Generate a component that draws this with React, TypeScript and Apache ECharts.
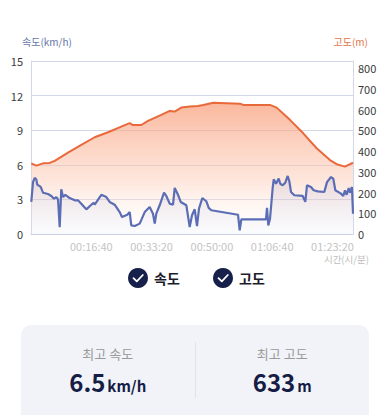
import React, { useEffect, useRef } from "react";
import * as echarts from "echarts";

const FONT = '"Noto Sans CJK KR", "Noto Sans", sans-serif';

// time (seconds) and altitude (m)
const altTimes = [5, 88, 199, 310, 393, 613, 834, 1056, 1277, 1497, 1636, 1691, 1829, 1940, 2160, 2300, 2383, 2492, 2636, 2769, 2857, 3023, 3465, 3520, 3963, 4074, 4294, 4515, 4737, 4958, 5069, 5206, 5340];
const altValues = [341, 330, 341, 343, 353, 393, 430, 467, 491, 518, 535, 526, 526, 546, 575, 594, 591, 610, 615, 618, 623, 633, 629, 623, 623, 610, 551, 486, 414, 357, 337, 325, 344];

// time (seconds) and speed (km/h)
const speedTimes = [5, 33, 61, 88, 104, 161, 199, 282, 337, 381, 420, 448, 476, 502, 531, 569, 642, 725, 779, 834, 917, 1000, 1045, 1056, 1166, 1249, 1305, 1388, 1471, 1509, 1597, 1637, 1663, 1720, 1803, 1886, 1968, 2023, 2052, 2078, 2134, 2206, 2244, 2300, 2355, 2383, 2438, 2483, 2576, 2632, 2670, 2715, 2753, 2786, 2841, 2907, 2947, 2990, 3433, 3461, 3488, 3632, 3897, 3914, 3935, 3964, 4008, 4025, 4063, 4108, 4134, 4174, 4217, 4257, 4284, 4312, 4367, 4506, 4549, 4577, 4643, 4688, 4755, 4864, 4909, 4975, 5013, 5047, 5141, 5179, 5207, 5235, 5269, 5290, 5323, 5340];
const speedValues = [2.78, 4.5, 4.86, 4.74, 4.28, 4.08, 3.58, 3.47, 3.3, 3.06, 3.2, 3.0, 0.6, 3.88, 3.2, 3.4, 3.12, 2.92, 2.92, 2.63, 2.14, 2.54, 2.71, 2.54, 3.4, 3.2, 2.78, 2.54, 1.9, 1.47, 1.67, 1.9, 0.75, 0.69, 0.9, 1.9, 2.34, 1.76, 0.9, 1.76, 2.49, 3.58, 3.3, 2.63, 2.54, 3.99, 3.4, 2.78, 2.49, 0.6, 1.62, 2.14, 0.69, 2.2, 3.12, 2.84, 2.26, 2.06, 1.67, 0.32, 1.27, 1.27, 1.27, 2.26, 0.75, 1.33, 3.99, 4.74, 4.36, 4.8, 4.36, 4.22, 4.45, 5.03, 4.57, 3.64, 3.36, 3.3, 2.78, 4.22, 4.08, 3.79, 3.7, 3.64, 4.5, 4.94, 4.8, 3.79, 3.5, 3.3, 3.79, 3.4, 3.99, 3.58, 4.08, 1.76];

const legendNames = ["속도", "고도"];
const axisNames = ["속도(km/h)", "고도(m)", "시간(시/분)"];
const statLabels = ["최고 속도", "최고 고도"];
const statValues = ["6.5", "633"];
const statUnits = ["km/h", "m"];

const fmtTime = (s: number) => {
  const h = Math.floor(s / 3600);
  const m = Math.floor((s % 3600) / 60);
  const sec = Math.floor(s % 60);
  const p = (n: number) => String(n).padStart(2, "0");
  return `${p(h)}:${p(m)}:${p(sec)}`;
};

function legendItem(cx: number, cy: number, label: string) {
  return [
    { type: "circle", shape: { cx, cy, r: 10 }, style: { fill: "#17204a" } },
    {
      type: "polyline",
      shape: { points: [[cx - 4.5, cy + 0.2], [cx - 1.2, cy + 3.4], [cx + 4.8, cy - 3]] },
      style: { stroke: "#ffffff", lineWidth: 1.8, fill: "none", lineCap: "round", lineJoin: "round" },
    },
    {
      type: "text",
      x: cx + 16,
      y: cy,
      style: { text: label, fill: "#1c1c2a", font: `bold 14px ${FONT}`, textVerticalAlign: "middle", textAlign: "left" },
    },
  ];
}

export default function App() {
  const ref = useRef<HTMLDivElement>(null);
  useEffect(() => {
    if (!ref.current) return;
    const chart = echarts.init(ref.current, null, { renderer: "svg" });
    chart.setOption({
      animation: false,
      textStyle: { fontFamily: FONT },
      grid: { left: 31, right: 33, top: 61, bottom: 76, containLabel: false },
      xAxis: {
        type: "value",
        min: 0,
        max: 5340,
        interval: 1000,
        axisLine: { show: true, lineStyle: { color: "#c9d0e4", width: 1 } },
        axisTick: { show: false },
        splitLine: { show: false },
        axisLabel: {
          color: "#c4c4c4",
          fontSize: 11,
          margin: 6,
          showMinLabel: false,
          showMaxLabel: false,
          formatter: (v: number) => fmtTime(v),
        },
      },
      yAxis: [
        {
          type: "value",
          min: 0,
          max: 15,
          interval: 3,
          axisLine: { show: true, lineStyle: { color: "#d3d8e8" } },
          axisTick: { show: false },
          axisLabel: { color: "#3a3a3a", fontSize: 11, margin: 8 },
          splitLine: { show: true, lineStyle: { color: "#d3d8e8", width: 1 } },
        },
        {
          type: "value",
          min: 0,
          max: 835,
          interval: 100,
          axisLine: { show: true, lineStyle: { color: "#d3d8e8" } },
          axisTick: { show: false },
          axisLabel: { color: "#3a3a3a", fontSize: 11, margin: 5, showMaxLabel: false },
          splitLine: { show: false },
        },
      ],
      series: [
        {
          name: "고도",
          type: "line",
          yAxisIndex: 1,
          symbol: "none",
          data: altTimes.map((t, i) => [t, altValues[i]]),
          lineStyle: { color: "#e8693a", width: 2 },
          areaStyle: {
            color: new echarts.graphic.LinearGradient(0, 0, 0, 1, [
              { offset: 0, color: "rgba(248,148,108,0.95)" },
              { offset: 0.6, color: "rgba(252,205,185,0.7)" },
              { offset: 1, color: "rgba(255,255,255,0.2)" },
            ]),
          },
          z: 2,
        },
        {
          name: "속도",
          type: "line",
          yAxisIndex: 0,
          symbol: "none",
          data: speedTimes.map((t, i) => [t, speedValues[i]]),
          lineStyle: { color: "#5a6db5", width: 2.2 },
          areaStyle: {
            color: new echarts.graphic.LinearGradient(0, 0, 0, 1, [
              { offset: 0, color: "rgba(110,120,190,0.18)" },
              { offset: 1, color: "rgba(110,120,190,0.04)" },
            ]),
          },
          z: 3,
        },
      ],
      graphic: [
        {
          type: "text",
          x: 22,
          y: 41,
          style: { text: axisNames[0], fill: "#6676a8", font: `10px ${FONT}`, textAlign: "left", textVerticalAlign: "middle" },
        },
        {
          type: "text",
          x: 368,
          y: 41,
          style: { text: axisNames[1], fill: "#e0784a", font: `10px ${FONT}`, textAlign: "right", textVerticalAlign: "middle" },
        },
        {
          type: "text",
          x: 369,
          y: 259,
          style: { text: axisNames[2], fill: "#bdbdbd", font: `9.5px ${FONT}`, textAlign: "right", textVerticalAlign: "middle" },
        },
        ...legendItem(138, 278, legendNames[0]),
        ...legendItem(223, 278, legendNames[1]),
      ],
    });
    return () => chart.dispose();
  }, []);

  const stat = (i: number) => (
    <div style={{ flex: 1, display: "flex", flexDirection: "column", alignItems: "center" }}>
      <div style={{ color: "#9a9a9a", fontSize: 13, lineHeight: "16px", marginTop: 21 }}>{statLabels[i]}</div>
      <div style={{ marginTop: 5, color: "#151c45", fontWeight: 700, lineHeight: "30px" }}>
        <span style={{ fontSize: 24 }}>{statValues[i]}</span>
        <span style={{ fontSize: 15, marginLeft: 2 }}>{statUnits[i]}</span>
      </div>
    </div>
  );

  return (
    <div style={{ position: "fixed", left: 0, top: 0, width: 386, height: 415, background: "#fff", overflow: "hidden", fontFamily: FONT }}>
      <div ref={ref} style={{ width: 386, height: 310 }} />
      <div
        style={{
          position: "absolute",
          left: 21,
          top: 325,
          width: 348,
          height: 110,
          background: "#f1f3f8",
          borderRadius: 10,
          display: "flex",
        }}
      >
        {stat(0)}
        <div style={{ width: 1, background: "#dfe2ea", marginTop: 17, height: 56 }} />
        {stat(1)}
      </div>
    </div>
  );
}
